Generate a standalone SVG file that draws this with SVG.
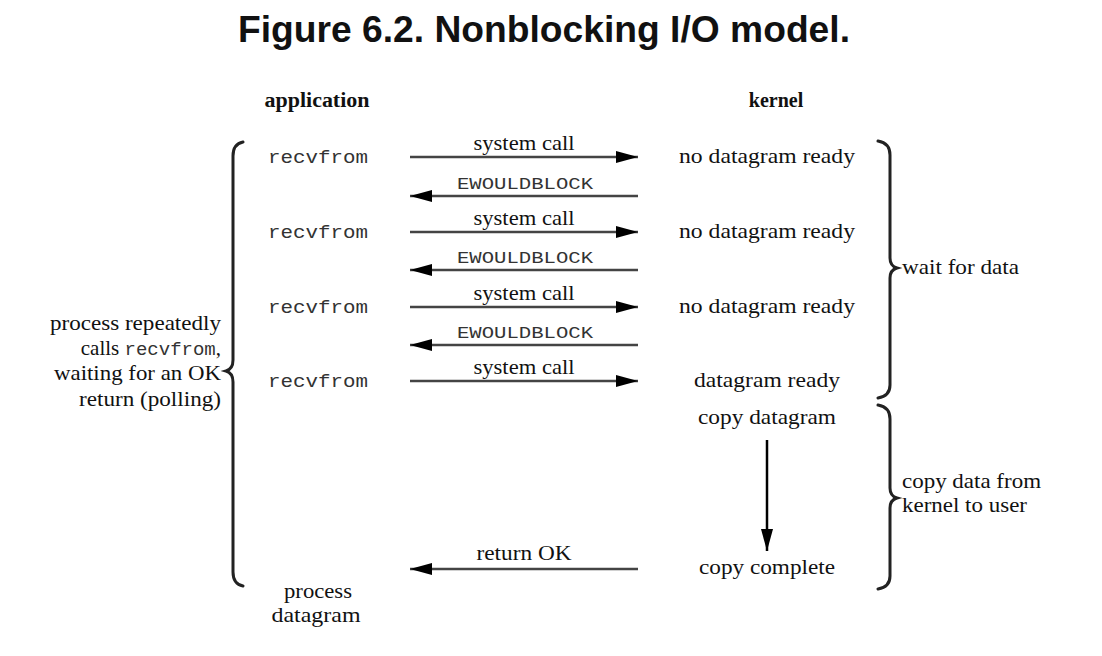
<svg xmlns="http://www.w3.org/2000/svg" width="1102" height="656" viewBox="0 0 1102 656">
<style>
.t{font-family:"Liberation Sans",Arial,sans-serif;font-weight:bold;font-size:36px;fill:#111}
.h{font-family:"Liberation Serif","Times New Roman",serif;font-weight:bold;font-size:20px;fill:#111}
.s{font-family:"Liberation Serif","Times New Roman",serif;font-size:21px;fill:#111}
.m{font-family:"Liberation Mono","Courier New",monospace;font-size:19px;fill:#333}
.mc{font-family:"Liberation Mono","Courier New",monospace;font-size:17px;fill:#333}
.ln{stroke:#444;stroke-width:2.5;fill:none}
.br{stroke:#222;stroke-width:3;fill:none;stroke-linecap:round}
</style>
<defs>
<marker id="ah" viewBox="0 0 22 12" refX="22" refY="6" markerWidth="22" markerHeight="12" markerUnits="userSpaceOnUse" orient="auto">
<path d="M0,0 L22,6 L0,12 z" fill="#000"/>
</marker>
</defs>
<rect width="1102" height="656" fill="#fff"/>
<text class="t" x="544" y="42" text-anchor="middle" textLength="612" lengthAdjust="spacingAndGlyphs">Figure 6.2. Nonblocking I/O model.</text>
<g id="headers">
<text class="h" x="317" y="107" text-anchor="middle" textLength="105" lengthAdjust="spacingAndGlyphs">application</text>
<text class="h" x="776" y="107" text-anchor="middle">kernel</text>
</g>
<g id="connectors">
<line class="ln" x1="410" y1="157" x2="638" y2="157" marker-end="url(#ah)"/>
<line class="ln" x1="638" y1="196" x2="410" y2="196" marker-end="url(#ah)"/>
<line class="ln" x1="410" y1="232" x2="638" y2="232" marker-end="url(#ah)"/>
<line class="ln" x1="638" y1="270" x2="410" y2="270" marker-end="url(#ah)"/>
<line class="ln" x1="410" y1="307" x2="638" y2="307" marker-end="url(#ah)"/>
<line class="ln" x1="638" y1="345" x2="410" y2="345" marker-end="url(#ah)"/>
<line class="ln" x1="410" y1="381" x2="638" y2="381" marker-end="url(#ah)"/>
<line class="ln" x1="638" y1="569" x2="410" y2="569" marker-end="url(#ah)"/>
<line x1="767" y1="440" x2="767" y2="551" stroke="#000" stroke-width="2.5" marker-end="url(#ah)"/>
<text class="s" x="524" y="150" text-anchor="middle" textLength="101" lengthAdjust="spacingAndGlyphs">system call</text>
<text class="mc" x="525" y="189" text-anchor="middle" textLength="136" lengthAdjust="spacingAndGlyphs">EWOULDBLOCK</text>
<text class="s" x="524" y="225" text-anchor="middle" textLength="101" lengthAdjust="spacingAndGlyphs">system call</text>
<text class="mc" x="525" y="263" text-anchor="middle" textLength="136" lengthAdjust="spacingAndGlyphs">EWOULDBLOCK</text>
<text class="s" x="524" y="300" text-anchor="middle" textLength="101" lengthAdjust="spacingAndGlyphs">system call</text>
<text class="mc" x="525" y="338" text-anchor="middle" textLength="136" lengthAdjust="spacingAndGlyphs">EWOULDBLOCK</text>
<text class="s" x="524" y="374" text-anchor="middle" textLength="101" lengthAdjust="spacingAndGlyphs">system call</text>
<text class="s" x="524" y="560" text-anchor="middle" textLength="95" lengthAdjust="spacingAndGlyphs">return OK</text>
</g>
<g id="app">
<text class="m" x="268" y="163" textLength="100" lengthAdjust="spacingAndGlyphs">recvfrom</text>
<text class="m" x="268" y="238" textLength="100" lengthAdjust="spacingAndGlyphs">recvfrom</text>
<text class="m" x="268" y="313" textLength="100" lengthAdjust="spacingAndGlyphs">recvfrom</text>
<text class="m" x="268" y="387" textLength="100" lengthAdjust="spacingAndGlyphs">recvfrom</text>
<text class="s" x="318" y="598" text-anchor="middle" textLength="68" lengthAdjust="spacingAndGlyphs">process</text>
<text class="s" x="316" y="622" text-anchor="middle" textLength="89" lengthAdjust="spacingAndGlyphs">datagram</text>
</g>
<g id="kernel">
<text class="s" x="767" y="163" text-anchor="middle" textLength="176" lengthAdjust="spacingAndGlyphs">no datagram ready</text>
<text class="s" x="767" y="238" text-anchor="middle" textLength="176" lengthAdjust="spacingAndGlyphs">no datagram ready</text>
<text class="s" x="767" y="313" text-anchor="middle" textLength="176" lengthAdjust="spacingAndGlyphs">no datagram ready</text>
<text class="s" x="767" y="387" text-anchor="middle" textLength="146" lengthAdjust="spacingAndGlyphs">datagram ready</text>
<text class="s" x="767" y="424" text-anchor="middle" textLength="138" lengthAdjust="spacingAndGlyphs">copy datagram</text>
<text class="s" x="767" y="574" text-anchor="middle" textLength="136" lengthAdjust="spacingAndGlyphs">copy complete</text>
</g>
<g id="left-brace">
<path class="br" d="M243,142 Q233,144 233,156 L233,360 Q233,369 226,371 Q233,373 233,382 L233,572 Q233,584 243,586"/>
<text class="s" x="221" y="330" text-anchor="end" textLength="171" lengthAdjust="spacingAndGlyphs">process repeatedly</text>
<text class="s" x="221" y="355" text-anchor="end">calls <tspan class="m" font-size="18">recvfrom</tspan>,</text>
<text class="s" x="221" y="380" text-anchor="end" textLength="167" lengthAdjust="spacingAndGlyphs">waiting for an OK</text>
<text class="s" x="221" y="406" text-anchor="end" textLength="142" lengthAdjust="spacingAndGlyphs">return (polling)</text>
</g>
<g id="wait-brace">
<path class="br" d="M878,141 Q890,143 890,155 L890,258 Q890,266 897,268 Q890,270 890,278 L890,385 Q890,396 878,398"/>
<text class="s" x="902" y="274" textLength="117" lengthAdjust="spacingAndGlyphs">wait for data</text>
</g>
<g id="copy-brace">
<path class="br" d="M878,405 Q890,407 890,419 L890,488 Q890,496 897,498 Q890,500 890,508 L890,576 Q890,587 878,589"/>
<text class="s" x="902" y="488" textLength="139" lengthAdjust="spacingAndGlyphs">copy data from</text>
<text class="s" x="902" y="512" textLength="125" lengthAdjust="spacingAndGlyphs">kernel to user</text>
</g>
</svg>
